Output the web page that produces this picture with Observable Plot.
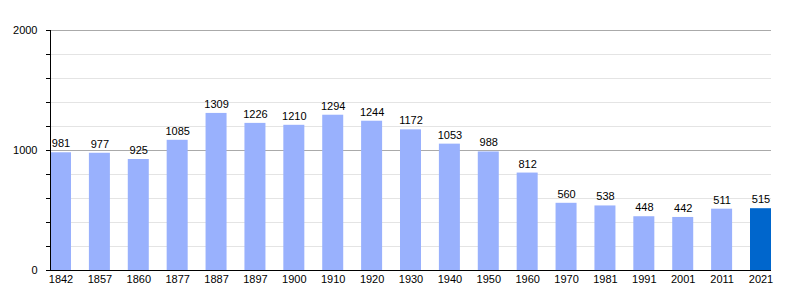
<!DOCTYPE html>
<html>
<head>
<meta charset="utf-8">
<script src="https://cdn.jsdelivr.net/npm/d3@7"></script>
<script src="https://cdn.jsdelivr.net/npm/@observablehq/plot@0.6"></script>
<style>
  html, body { margin: 0; padding: 0; background: #fff; }
  #chart svg { display: block; }
</style>
</head>
<body>
<div id="chart"></div>
<script>
const years = ["1842","1857","1860","1877","1887","1897","1900","1910","1920","1930","1940","1950","1960","1970","1981","1991","2001","2011","2021"];
const population = [981,977,925,1085,1309,1226,1210,1294,1244,1172,1053,988,812,560,538,448,442,511,515];
const highlightYear = "2021";
const majorTicks = [0, 1000, 2000];
const minorTicks = [200,400,600,800,1200,1400,1600,1800];
const allTicks = [0,200,400,600,800,1000,1200,1400,1600,1800,2000];

const data = years.map((y, i) => ({year: y, pop: population[i], last: y === highlightYear}));

const chart = Plot.plot({
  width: 800,
  height: 300,
  marginLeft: 50,
  marginRight: 29,
  marginTop: 30,
  marginBottom: 30,
  style: {fontFamily: "'Liberation Sans', Arial, sans-serif", fontSize: "11px", color: "#000"},
  x: {domain: years, paddingInner: 0.46, paddingOuter: 0, round: false, label: null},
  y: {domain: [0, 2000], label: null},
  marks: [
    Plot.ruleY(minorTicks, {stroke: "#e4e4e4", strokeWidth: 1}),
    Plot.ruleY(majorTicks.filter(d => d > 0), {stroke: "#aaaaaa", strokeWidth: 1}),
    Plot.barY(data, {x: "year", y: "pop", fill: d => d.last ? "#0066cc" : "#99b1fd"}),
    Plot.text(data, {x: "year", y: "pop", text: d => String(d.pop), dy: -9, fill: "#000", fontSize: 11}),
    Plot.axisY({ticks: allTicks, tickSize: 4, tickPadding: 9, tickFormat: d => majorTicks.includes(d) ? String(d) : "", stroke: "#000", fill: "#000"}),
    Plot.axisX({tickSize: 0, tickPadding: 5, fill: "#000"}),
    Plot.frame({anchor: "left", stroke: "#000"}),
    Plot.ruleY([0], {stroke: "#000", strokeWidth: 1})
  ]
});
document.getElementById("chart").appendChild(chart);
</script>
</body>
</html>
